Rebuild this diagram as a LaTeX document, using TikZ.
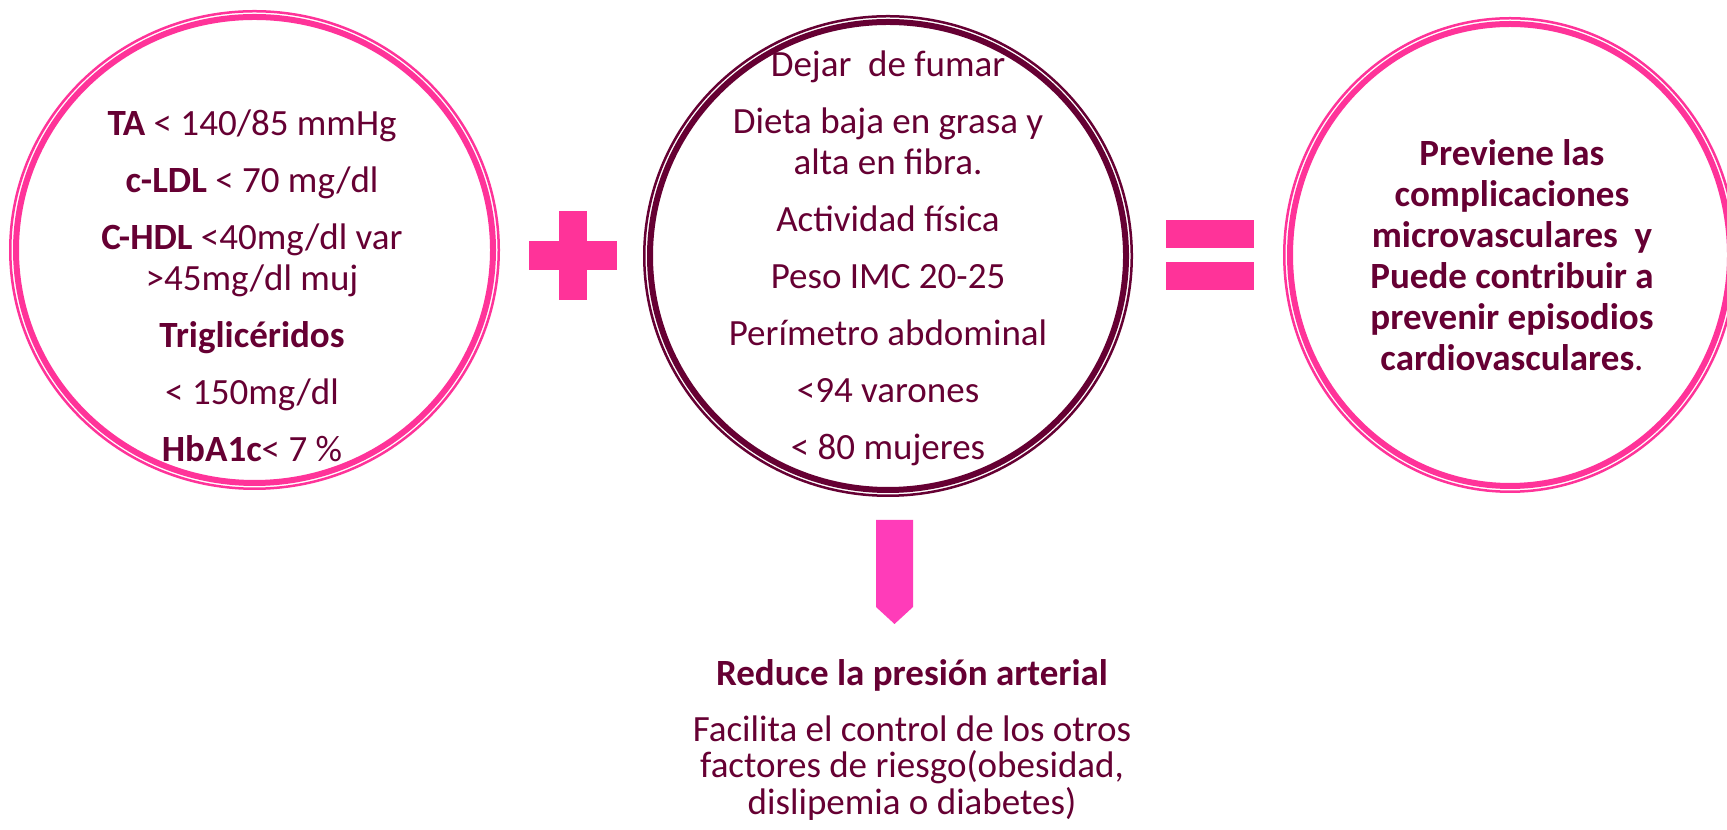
\documentclass[tikz,border=0pt]{standalone}
\usepackage{fontspec}
\setmainfont{Carlito}
\usetikzlibrary{shapes.geometric}
\definecolor{rosa}{RGB}{255,51,153}
\definecolor{granate}{RGB}{102,0,51}
\definecolor{rosaflecha}{RGB}{255,60,185}

\begin{document}
\begin{tikzpicture}[x=0.5pt, y=0.5pt,
        anillo/.style={draw, ellipse, line width=3pt, inner sep=0pt},
        filo/.style={line width=1.25pt},
        texto/.style={text=granate, align=center, inner sep=0pt, font=\fontsize{18.5pt}{20.5pt}\selectfont}]
    \path[use as bounding box, fill=white] (0,0) rectangle (1727,829);

    % los tres circulos
    \node[anillo, rosa, minimum width=238.5pt, minimum height=233pt] (metas) at (254.5,579) {};
    \draw[filo, rosa] (metas.center) ellipse [x radius=244.25, y radius=238.75];

    \node[anillo, granate, minimum width=238pt, minimum height=234pt] (habitos) at (888,573) {};
    \draw[filo, granate] (habitos.center) ellipse [x radius=243.75, y radius=239.75];

    \node[anillo, rosa, minimum width=220pt, minimum height=231pt] (previene) at (1510,574) {};
    \draw[filo, rosa] (previene.center) ellipse [x radius=225.75, y radius=236.75];

    % textos
    \node[texto] (metastxt) at (252,543) {\textbf{TA} < 140/85 mmHg\\[8pt]
        \textbf{c-LDL} < 70 mg/dl\\[8pt]
        \textbf{C-HDL} <40mg/dl var\\
        >45mg/dl muj\\[8pt]
        \textbf{Triglicéridos}\\[8pt]
        < 150mg/dl\\[8pt]
        \textbf{HbA1c}< 7 \%};
    \node[texto] (habitostxt) at (888,571) {Dejar\ \ de fumar\\[8pt]
        Dieta baja en grasa y\\
        alta en fibra.\\[8pt]
        Actividad física\\[8pt]
        Peso IMC 20-25\\[8pt]
        Perímetro abdominal\\[8pt]
        <94 varones\\[8pt]
        < 80 mujeres};
    \node[texto] (previenetxt) at (1512,574) {\textbf{Previene las}\\
        \textbf{complicaciones}\\
        \textbf{microvasculares\ \ y}\\
        \textbf{Puede contribuir a}\\
        \textbf{prevenir episodios}\\
        \textbf{cardiovasculares}.};

    % signos
    \fill[rosa] (529,588) rectangle (617,559);
    \fill[rosa] (559,618) rectangle (587,529);
    \fill[rosa] (1166,609) rectangle (1254,581);
    \fill[rosa] (1166,567) rectangle (1254,539);

    % flecha hacia abajo
    \fill[rosaflecha] (876,309) -- (913,309) -- (913,222) -- (894.5,205) -- (876,222) -- cycle;

    \node[texto, font=\bfseries\fontsize{18.5pt}{20.5pt}\selectfont] (reduce) at (912,154) {Reduce la presión arterial};
    \node[texto, font=\fontsize{18.5pt}{18.25pt}\selectfont] (facilita) at (912,61) {Facilita el control de los otros\\
        factores de riesgo(obesidad,\\
        dislipemia o diabetes)};
\end{tikzpicture}
\end{document}
